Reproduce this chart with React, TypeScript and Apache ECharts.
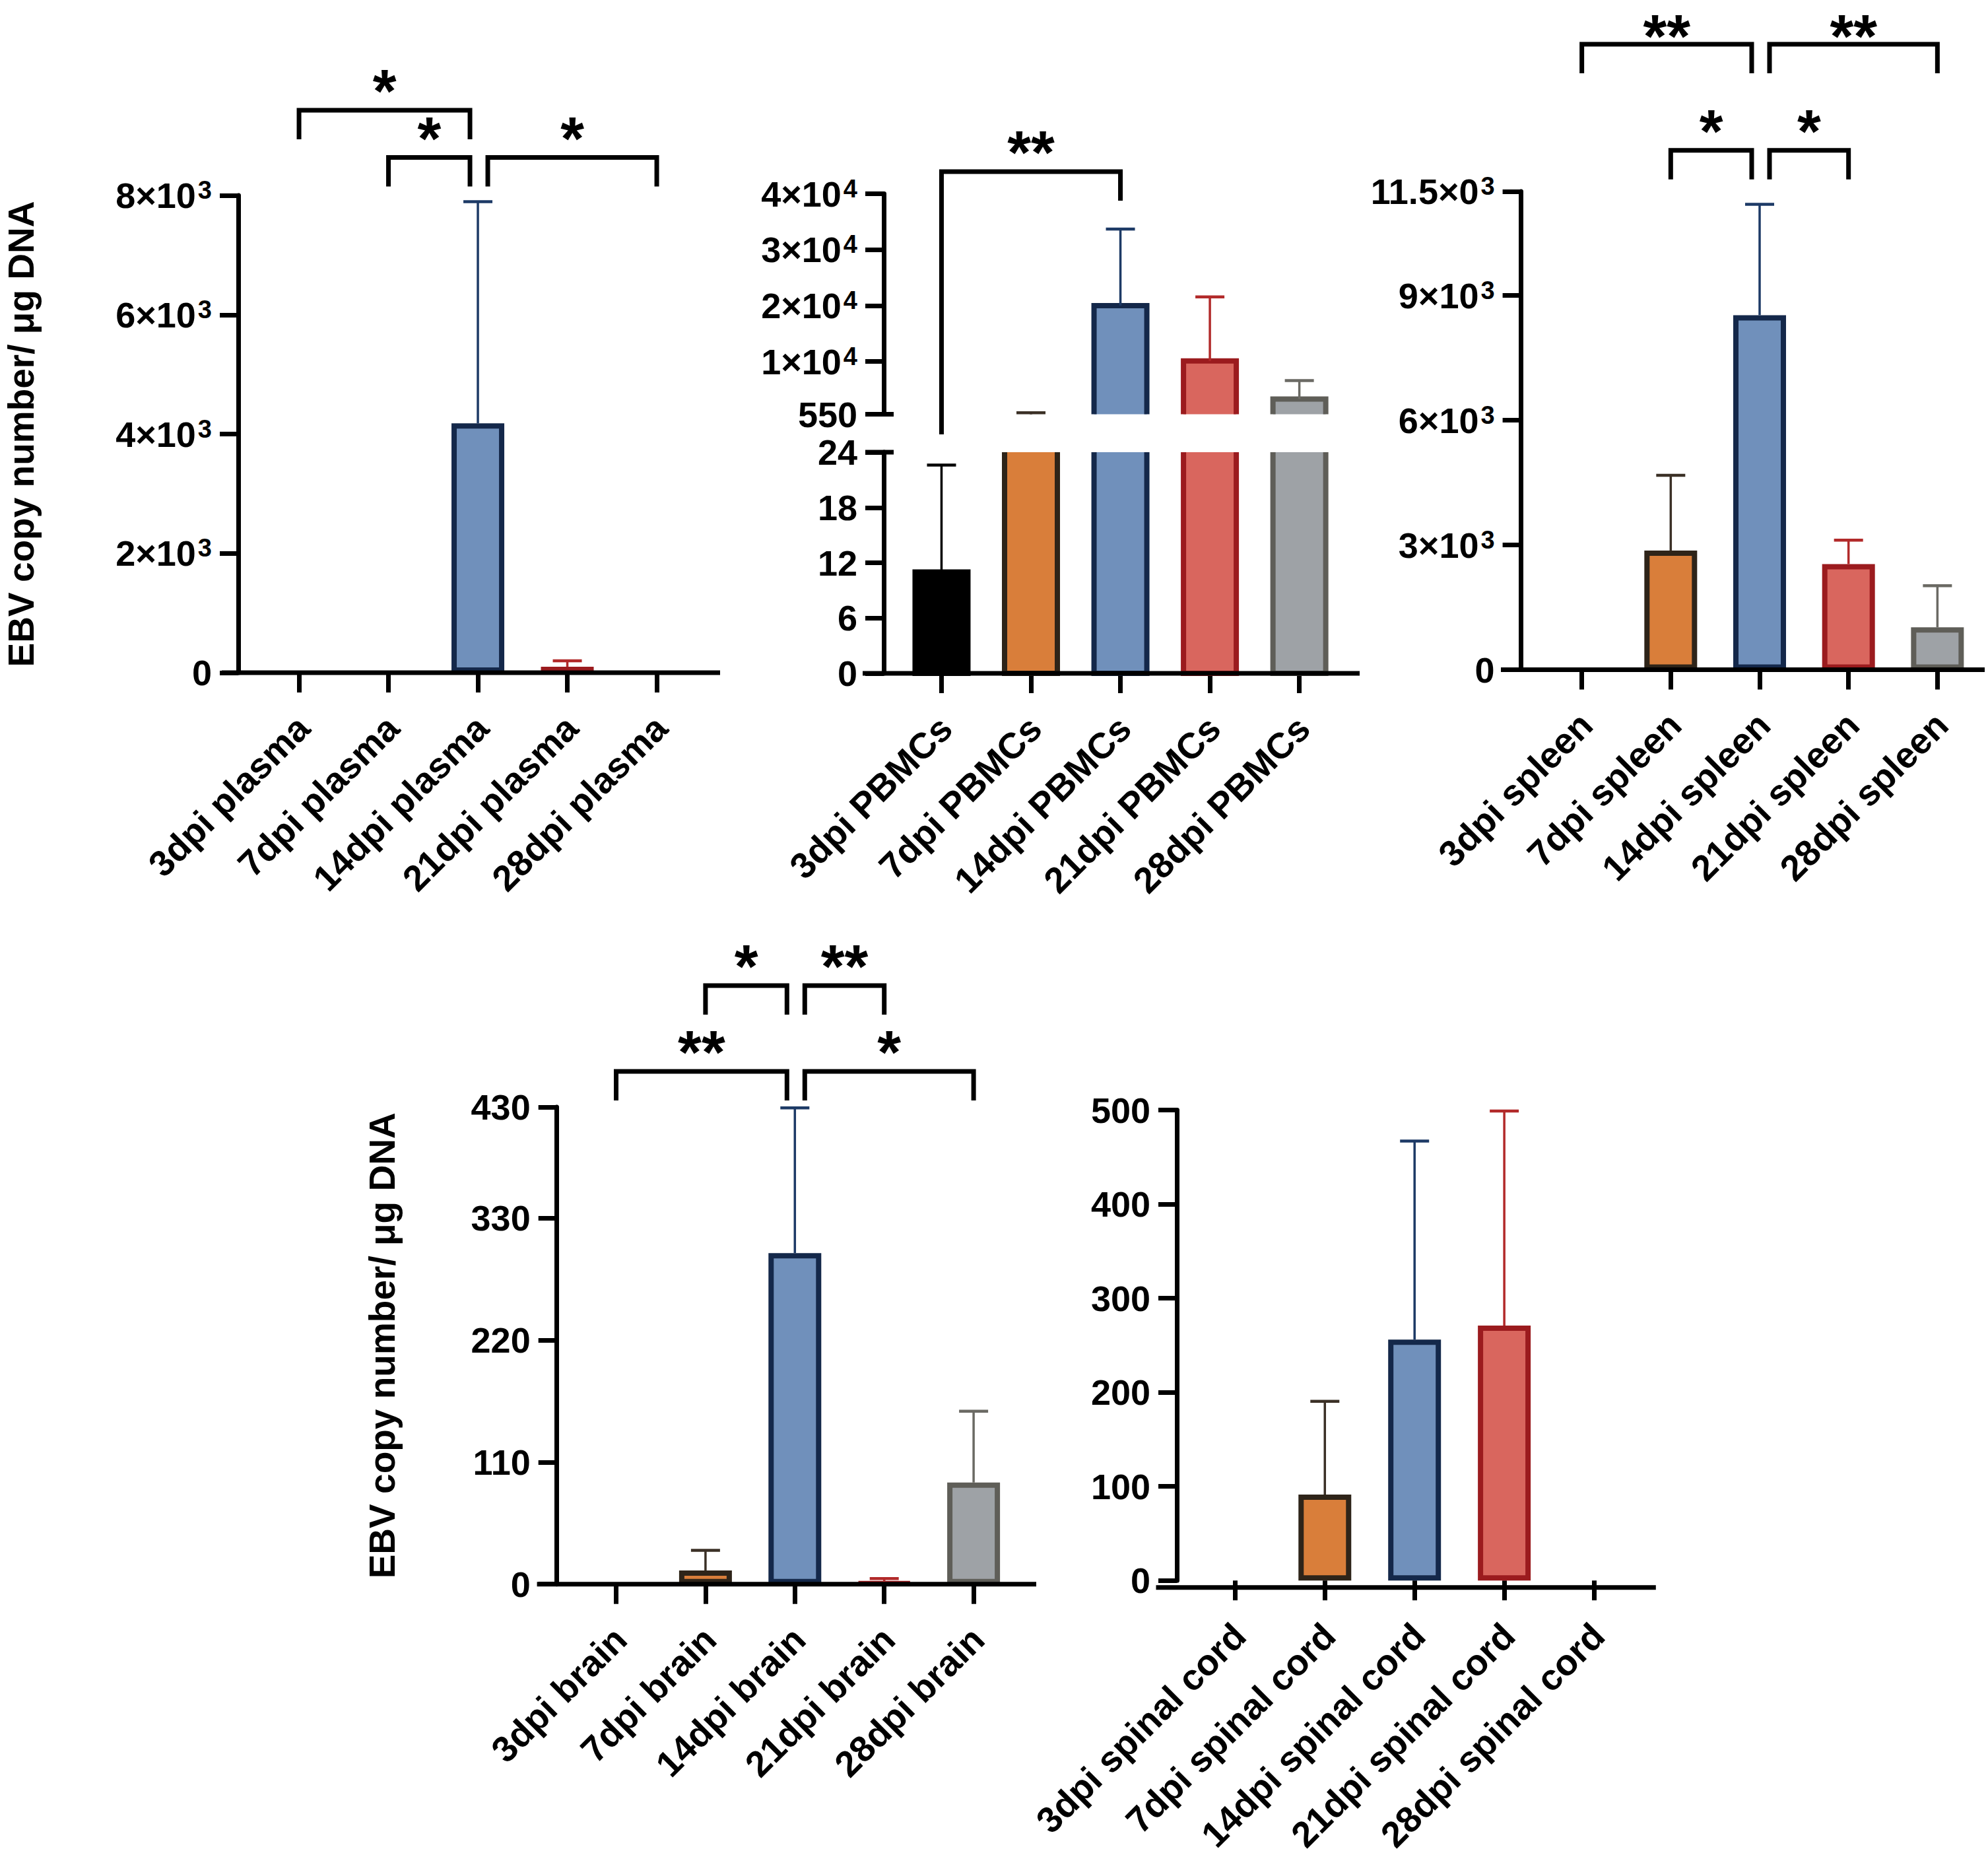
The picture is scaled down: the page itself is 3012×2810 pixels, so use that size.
import React, { useEffect, useRef } from "react";
import * as echarts from "echarts";

const FONT = '"Liberation Sans", Arial, Helvetica, sans-serif';

// ---------------- data ----------------
const plasmaCats = ["3dpi plasma", "7dpi plasma", "14dpi plasma", "21dpi plasma", "28dpi plasma"];
const plasmaMean = [0, 0, 4180, 100, 0];
const plasmaSD = [0, 0, 3715, 100, 0];
const plasmaTicks = [0, 2000, 4000, 6000, 8000];
const plasmaTickLabels = ["0", "2×10^3", "4×10^3", "6×10^3", "8×10^3"];
const plasmaSig = [
  { from: 0, to: 2, label: "*", row: 1 },
  { from: 1, to: 2, label: "*", row: 0 },
  { from: 2, to: 4, label: "*", row: 0 },
];

const pbmcCats = ["3dpi PBMCs", "7dpi PBMCs", "14dpi PBMCs", "21dpi PBMCs", "28dpi PBMCs"];
const pbmcMean = [11.0, 480, 20000, 10100, 3270];
const pbmcSD = [11.6, 340, 13680, 11450, 3314];
const pbmcUpperTicks = [550, 10000, 20000, 30000, 40000];
const pbmcUpperTickLabels = ["550", "1×10^4", "2×10^4", "3×10^4", "4×10^4"];
const pbmcLowerTicks = [0, 6, 12, 18, 24];
const pbmcLowerTickLabels = ["0", "6", "12", "18", "24"];
const pbmcSig = [{ from: 0, to: 2, label: "**", row: 0 }];

const spleenCats = ["3dpi spleen", "7dpi spleen", "14dpi spleen", "21dpi spleen", "28dpi spleen"];
const spleenMean = [0, 2865, 8525, 2540, 1021];
const spleenSD = [0, 1810, 2666, 574, 998];
const spleenTicks = [0, 3000, 6000, 9000, 11500];
const spleenTickLabels = ["0", "3×10^3", "6×10^3", "9×10^3", "11.5×0^3"];
const spleenSig = [
  { from: 0, to: 2, label: "**", row: 1 },
  { from: 2, to: 4, label: "**", row: 1 },
  { from: 1, to: 2, label: "*", row: 0 },
  { from: 2, to: 3, label: "*", row: 0 },
];

const brainCats = ["3dpi brain", "7dpi brain", "14dpi brain", "21dpi brain", "28dpi brain"];
const brainMean = [0, 12.3, 298.3, 1, 91.6];
const brainSD = [0, 18.2, 131, 4, 64.2];
const brainTicks = [0, 110, 220, 330, 430];
const brainTickLabels = ["0", "110", "220", "330", "430"];
const brainSig = [
  { from: 1, to: 2, label: "*", row: 1 },
  { from: 2, to: 3, label: "**", row: 1 },
  { from: 0, to: 2, label: "**", row: 0 },
  { from: 2, to: 4, label: "*", row: 0 },
];

const spinalCats = ["3dpi spinal cord", "7dpi spinal cord", "14dpi spinal cord", "21dpi spinal cord", "28dpi spinal cord"];
const spinalMean = [0, 91.3, 256, 271, 0];
const spinalSD = [0, 99.2, 211, 228, 0];
const spinalTicks = [0, 100, 200, 300, 400, 500];
const spinalTickLabels = ["0", "100", "200", "300", "400", "500"];

const yTitle = "EBV copy number/ μg DNA";

// ---------------- styles ----------------
const FILL = ["#000000", "#D97E3A", "#7090BB", "#D9665E", "#9EA2A6"];
const BORDER = ["#000000", "#2E2419", "#14284A", "#9B1B1E", "#5F5E58"];
const ERRC = ["#000000", "#3B3026", "#1D3A66", "#B22A2A", "#6B6A64"];

// ---------------- layout (pixels) ----------------
const LAY = {
  plasma: { axisX: 361, left: 385.3, width: 677.5, top: 296, bottom: 1019, xLine: [336, 1091], rows: [238.6, 167] },
  pbmc: { axisX: 1339, left: 1358.7, width: 677.7, upTop: 293.5, upBottom: 627.6, loTop: 685, loBottom: 1020, xLine: [1307, 2060], rows: [260], leftLegEnd: 658 },
  spleen: { axisX: 2304.6, left: 2329.3, width: 673.4, top: 290, bottom: 1014.5, xLine: [2274, 3007], rows: [227.7, 67] },
  brain: { axisX: 843.7, left: 865.8, width: 677, top: 1677, bottom: 2399.7, xLine: [813.6, 1570], rows: [1623, 1493] },
  spinal: { axisX: 1783, left: 1803.4, width: 679.6, top: 1681.5, bottom: 2404.7, xLine: [1751.5, 2508.8] },
};

const BAR_W = 80;
const BORDER_W = 8;
const AXIS_W = 7;
const STAR_F = 92;

function tickFormatter(ticks: number[], labels: string[]) {
  return (v: number) => {
    const idx = ticks.findIndex((t) => Math.abs(t - v) < 1e-6);
    const lab = idx >= 0 ? labels[idx] : String(v);
    if (lab.indexOf("^") >= 0) {
      const [b, e] = lab.split("^");
      return `{b|${b}}{s|${e}}`;
    }
    return `{b|${lab}}`;
  };
}

const rich = {
  b: { fontSize: 54, fontWeight: "bold", fontFamily: FONT, color: "#000" },
  s: { fontSize: 38, fontWeight: "bold", fontFamily: FONT, color: "#000", verticalAlign: "top", padding: [0, 0, 0, 3] },
};

function makeGrid(left: number, top: number, width: number, bottom: number) {
  return { left, top, width, height: bottom - top, containLabel: false };
}

function makeX(cats: string[], gridIndex: number, show = true) {
  return {
    type: "category",
    gridIndex,
    data: cats,
    show,
    axisLine: { show: false },
    axisTick: { show: true, alignWithLabel: true, length: 30, lineStyle: { width: AXIS_W, color: "#000" } },
    axisLabel: {
      interval: 0,
      rotate: 45,
      align: "right",
      verticalAlign: "top",
      lineHeight: 18,
      margin: 68,
      fontSize: 55,
      fontWeight: "bold",
      color: "#000",
      fontFamily: FONT,
    },
    splitLine: { show: false },
  };
}

function makeY(gridIndex: number, min: number, max: number, ticks: number[], labels: string[], offset: number, name?: string, nameGap?: number) {
  return {
    type: "value",
    gridIndex,
    min,
    max,
    offset,
    name: name || "",
    nameLocation: "middle",
    nameRotate: 90,
    nameGap: nameGap || 0,
    nameTextStyle: { fontSize: 55, fontWeight: "bold", color: "#000", fontFamily: FONT },
    axisLine: { show: true, lineStyle: { width: AXIS_W, color: "#000" } },
    axisTick: { show: true, length: 28, lineStyle: { width: AXIS_W, color: "#000" }, customValues: ticks },
    axisLabel: { customValues: ticks, formatter: tickFormatter(ticks, labels), margin: 40, rich },
    splitLine: { show: false },
  };
}

function barSeries(mean: number[], axisIndex: number) {
  return {
    type: "bar",
    xAxisIndex: axisIndex,
    yAxisIndex: axisIndex,
    barWidth: BAR_W,
    silent: true,
    z: 3,
    data: mean.map((v, i) => ({
      value: v,
      itemStyle: { color: FILL[i], borderColor: BORDER[i], borderWidth: v > 0 ? BORDER_W : 0 },
    })),
  };
}

function brokenBarSeries(mean: number[], axisIndex: number) {
  return {
    type: "custom",
    xAxisIndex: axisIndex,
    yAxisIndex: axisIndex,
    silent: true,
    z: 3,
    data: mean.map((m, i) => [i, m]),
    renderItem: (params: any, api: any) => {
      const i = api.value(0);
      const v = api.value(1);
      const cs = params.coordSys;
      const x = api.coord([i, 0])[0];
      const yv = api.coord([i, v])[1];
      const y0 = api.coord([i, 0])[1];
      const gTop = cs.y;
      const gBot = cs.y + cs.height;
      const top = Math.max(yv, gTop);
      const bot = Math.min(y0, gBot);
      if (top >= bot) return null;
      const topClip = yv < gTop;
      const botClip = y0 > gBot;
      const l = x - BAR_W / 2;
      const r = x + BAR_W / 2;
      const k = params.dataIndex;
      const stroke = { stroke: BORDER[k], lineWidth: BORDER_W, fill: null, lineJoin: "miter" };
      const children: any[] = [
        { type: "rect", shape: { x: l, y: top, width: BAR_W, height: bot - top }, style: { fill: FILL[k] } },
      ];
      if (!topClip && !botClip) {
        children.push({ type: "rect", shape: { x: l, y: top, width: BAR_W, height: bot - top }, style: stroke });
      } else if (topClip && !botClip) {
        children.push({ type: "polyline", shape: { points: [[l, top], [l, bot], [r, bot], [r, top]] }, style: stroke });
      } else if (!topClip && botClip) {
        children.push({ type: "polyline", shape: { points: [[l, bot], [l, top], [r, top], [r, bot]] }, style: stroke });
      } else {
        children.push({ type: "line", shape: { x1: l, y1: top, x2: l, y2: bot }, style: stroke });
        children.push({ type: "line", shape: { x1: r, y1: top, x2: r, y2: bot }, style: stroke });
      }
      return { type: "group", children };
    },
  };
}

function errSeries(mean: number[], sd: number[], axisIndex: number) {
  return {
    type: "custom",
    xAxisIndex: axisIndex,
    yAxisIndex: axisIndex,
    silent: true,
    z: 4,
    data: mean.map((m, i) => [i, m, sd[i]]),
    renderItem: (params: any, api: any) => {
      const i = api.value(0);
      const m = api.value(1);
      const s = api.value(2);
      if (!(s > 0)) return null;
      const cs = params.coordSys;
      const gTop = cs.y;
      const gBot = cs.y + cs.height;
      const p0 = api.coord([i, m]);
      const p1 = api.coord([i, m + s]);
      const x = p0[0];
      if (p0[1] < gTop || p1[1] > gBot) return null;
      const capVisible = p1[1] >= gTop - 0.5;
      const y0 = Math.min(p0[1], gBot);
      const y1 = Math.max(p1[1], gTop);
      const c = ERRC[params.dataIndex];
      const children: any[] = [
        { type: "line", shape: { x1: x, y1: y0, x2: x, y2: y1 }, style: { stroke: c, lineWidth: 3.5 } },
      ];
      if (capVisible) {
        children.push({ type: "line", shape: { x1: x - 22, y1: y1, x2: x + 22, y2: y1 }, style: { stroke: c, lineWidth: 4.5 } });
      }
      return { type: "group", children };
    },
  };
}

function bracketSeries(sig: { from: number; to: number; label: string; row: number }[], axisIndex: number, rows: number[], leftLegEnd?: number) {
  return {
    type: "custom",
    xAxisIndex: axisIndex,
    yAxisIndex: axisIndex,
    silent: true,
    clip: false,
    z: 5,
    data: sig.map((s) => [s.from, s.to, s.row]),
    renderItem: (params: any, api: any) => {
      const s = sig[params.dataIndex];
      const rightHub = sig.some((o) => o !== s && o.from === s.to);
      const leftHub = sig.some((o) => o !== s && o.to === s.from);
      const xa = api.coord([s.from, 0])[0] + (leftHub ? 15 : 0);
      const xb = api.coord([s.to, 0])[0] + (rightHub ? -12 : 0);
      const hy = rows[s.row];
      const legA = leftLegEnd !== undefined ? leftLegEnd : hy + 44;
      const legB = hy + 44;
      // star glyph centred ~47px above the bracket, kept fully inside the page
      const ty = Math.max(hy - 47 + 0.2 * STAR_F, 0.58 * STAR_F + 2);
      return {
        type: "group",
        children: [
          {
            type: "polyline",
            shape: { points: [[xa, legA], [xa, hy], [xb, hy], [xb, legB]] },
            style: { stroke: "#000", lineWidth: AXIS_W, fill: null, lineJoin: "miter" },
          },
          {
            type: "text",
            style: {
              x: (xa + xb) / 2,
              y: ty,
              text: s.label,
              fill: "#000",
              fontSize: STAR_F,
              fontWeight: "bold",
              fontFamily: FONT,
              align: "center",
              verticalAlign: "middle",
            },
          },
        ],
      };
    },
  };
}

function hLine(x1: number, x2: number, y: number) {
  return { type: "line", z: 10, shape: { x1, y1: y, x2, y2: y }, style: { stroke: "#000", lineWidth: AXIS_W } };
}

function buildOption() {
  const P = LAY.plasma, B = LAY.pbmc, S = LAY.spleen, R = LAY.brain, C = LAY.spinal;
  return {
    animation: false,
    backgroundColor: "#ffffff",
    grid: [
      makeGrid(P.left, P.top, P.width, P.bottom),
      makeGrid(B.left, B.upTop, B.width, B.upBottom),
      makeGrid(B.left, B.loTop, B.width, B.loBottom),
      makeGrid(S.left, S.top, S.width, S.bottom),
      makeGrid(R.left, R.top, R.width, R.bottom),
      makeGrid(C.left, C.top, C.width, C.bottom),
    ],
    xAxis: [
      makeX(plasmaCats, 0),
      makeX(pbmcCats, 1, false),
      makeX(pbmcCats, 2),
      makeX(spleenCats, 3),
      makeX(brainCats, 4),
      makeX(spinalCats, 5),
    ],
    yAxis: [
      makeY(0, 0, 8000, plasmaTicks, plasmaTickLabels, P.left - P.axisX, yTitle, 302),
      makeY(1, 550, 40000, pbmcUpperTicks, pbmcUpperTickLabels, B.left - B.axisX),
      makeY(2, 0, 24, pbmcLowerTicks, pbmcLowerTickLabels, B.left - B.axisX),
      makeY(3, 0, 11500, spleenTicks, spleenTickLabels, S.left - S.axisX),
      makeY(4, 0, 430, brainTicks, brainTickLabels, R.left - R.axisX, yTitle, 237),
      makeY(5, 0, 500, spinalTicks, spinalTickLabels, C.left - C.axisX),
    ],
    series: [
      barSeries(plasmaMean, 0),
      errSeries(plasmaMean, plasmaSD, 0),
      bracketSeries(plasmaSig, 0, P.rows),
      brokenBarSeries(pbmcMean, 1),
      brokenBarSeries(pbmcMean, 2),
      errSeries(pbmcMean, pbmcSD, 1),
      errSeries(pbmcMean, pbmcSD, 2),
      bracketSeries(pbmcSig, 1, B.rows, B.leftLegEnd),
      barSeries(spleenMean, 3),
      errSeries(spleenMean, spleenSD, 3),
      bracketSeries(spleenSig, 3, S.rows),
      barSeries(brainMean, 4),
      errSeries(brainMean, brainSD, 4),
      bracketSeries(brainSig, 4, R.rows),
      barSeries(spinalMean, 5),
      errSeries(spinalMean, spinalSD, 5),
    ],
    graphic: [
      hLine(P.xLine[0], P.xLine[1], P.bottom),
      hLine(B.xLine[0], B.xLine[1], B.loBottom),
      hLine(S.xLine[0], S.xLine[1], S.bottom),
      hLine(R.xLine[0], R.xLine[1], R.bottom),
      hLine(C.xLine[0], C.xLine[1], C.bottom),
      hLine(B.axisX - 28, B.axisX + 15, B.upBottom),
      hLine(B.axisX - 28, B.axisX + 15, B.loTop),
    ],
  };
}

export default function App() {
  const ref = useRef<HTMLDivElement>(null);
  useEffect(() => {
    document.body.style.margin = "0";
    if (!ref.current) return;
    const chart = echarts.init(ref.current, undefined, { renderer: "svg" });
    chart.setOption(buildOption() as any);
    return () => chart.dispose();
  }, []);
  return <div ref={ref} style={{ width: 3012, height: 2810, background: "#fff" }} />;
}
